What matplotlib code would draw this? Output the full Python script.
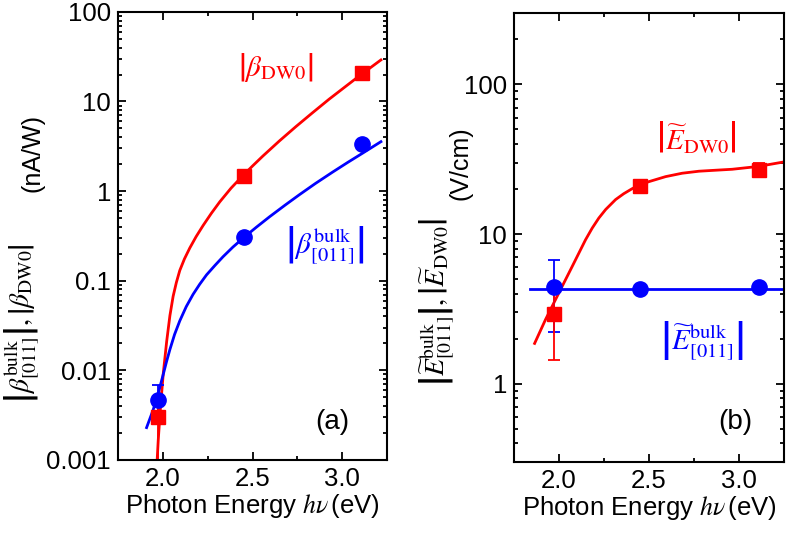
import numpy as np
import matplotlib
matplotlib.use("Agg")
import matplotlib.pyplot as plt
from matplotlib.ticker import FixedLocator, FuncFormatter, LogLocator, NullFormatter

plt.rcParams["font.family"] = ["Liberation Sans", "DejaVu Sans"]
plt.rcParams["mathtext.fontset"] = "stix"

# -----------------------------
# Data
# -----------------------------
energy = [1.97, 2.45, 3.11]

# panel (a): photocurrent coefficients (nA/W)
beta_dw0 = [0.0030, 1.49, 20.7]
beta_dw0_lo = [0.0029, 0.15, 1.5]
beta_dw0_hi = [0.0020, 0.15, 1.5]
beta_bulk = [0.0046, 0.305, 3.36]
beta_bulk_lo = [0.0021, 0.02, 0.2]
beta_bulk_hi = [0.0023, 0.02, 0.2]

# fit curves, panel (a)
fit_a_red_x = [1.966, 1.968, 1.974, 1.987, 2.002, 2.021, 2.039, 2.057, 2.075, 2.094,
               2.120, 2.150, 2.185, 2.224, 2.270, 2.317, 2.380, 2.446, 2.500, 2.557,
               2.650, 2.741, 2.830, 2.926, 3.010, 3.093, 3.215]
fit_a_red_y = [0.0008, 0.001, 0.00166, 0.0040, 0.0092, 0.021, 0.0407, 0.067, 0.0955, 0.130,
               0.175, 0.232, 0.310, 0.413, 0.565, 0.759, 1.08, 1.49, 1.91, 2.46,
               3.64, 5.24, 7.38, 10.6, 14.3, 19.2, 29.1]
fit_a_blue_x = [1.909, 1.946, 1.975, 2.002, 2.020, 2.039, 2.065, 2.094, 2.130, 2.168,
                2.205, 2.243, 2.290, 2.335, 2.390, 2.450, 2.520, 2.594, 2.680, 2.761,
                2.850, 2.946, 3.030, 3.113, 3.215]
fit_a_blue_y = [0.00229, 0.00363, 0.00562, 0.00902, 0.01245, 0.01706, 0.0251, 0.0356,
                0.0513, 0.0703, 0.0912, 0.116, 0.148, 0.185, 0.237, 0.302, 0.394, 0.516,
                0.695, 0.912, 1.216, 1.63, 2.09, 2.65, 3.56]

# panel (b): fields (V/cm)
e_dw0 = [2.93, 20.8, 26.9]
e_dw0_lo = [1.48, 1.5, 3.0]
e_dw0_hi = [1.5, 1.5, 3.0]
e_bulk = [4.43, 4.30, 4.43]
e_bulk_lo = [2.21, 0.2, 0.2]
e_bulk_hi = [2.31, 0.2, 0.2]

fit_b_red_x = [1.865, 1.926, 2.000, 2.074, 2.148, 2.185, 2.222, 2.260, 2.315, 2.360,
               2.407, 2.450, 2.500, 2.593, 2.685, 2.778, 2.870, 2.963, 3.107, 3.241]
fit_b_red_y = [1.86, 2.69, 4.05, 6.08, 9.16, 10.96, 12.8, 14.6, 17.0, 18.6,
               20.1, 21.3, 22.4, 24.2, 25.5, 26.3, 26.7, 27.1, 28.3, 30.2]
fit_b_blue_x = [1.837, 3.245]
fit_b_blue_y = [4.29, 4.29]

RED = "#ff0000"
BLUE = "#0000ff"


def style_axes(ax, ylim, yticks):
    ax.set_xlim(1.75, 3.25)
    ax.set_yscale("log")
    ax.set_ylim(*ylim)
    ax.xaxis.set_major_locator(FixedLocator([2.0, 2.5, 3.0]))
    ax.xaxis.set_minor_locator(FixedLocator([2.25, 2.75]))
    ax.xaxis.set_major_formatter(FuncFormatter(lambda v, p: f"{v:.1f}"))
    ax.yaxis.set_major_locator(FixedLocator(yticks))
    ax.yaxis.set_major_formatter(FuncFormatter(lambda v, p: f"{v:g}"))
    ax.yaxis.set_minor_locator(LogLocator(base=10, subs=np.arange(2, 10), numticks=20))
    ax.yaxis.set_minor_formatter(NullFormatter())
    ax.tick_params(which="both", direction="in", top=True, right=True,
                   width=1.3, labelsize=18.5, pad=5)
    ax.tick_params(which="major", length=6)
    ax.tick_params(which="minor", length=3)
    for s in ax.spines.values():
        s.set_linewidth(1.5)
    ax.set_xlabel(r"Photon Energy $h\nu\,$(eV)", fontsize=18.5, labelpad=1)


fig = plt.figure(figsize=(7.87, 5.41), dpi=100)

# -----------------------------
# Panel (a)
# -----------------------------
ax1 = fig.add_axes([0.150, 0.150, 0.342, 0.828])
ax1.plot(fit_a_red_x, fit_a_red_y, color=RED, lw=2)
ax1.plot(fit_a_blue_x, fit_a_blue_y, color=BLUE, lw=2)
ax1.errorbar(energy, beta_bulk, yerr=[beta_bulk_lo, beta_bulk_hi], fmt="o",
             color=BLUE, ms=11, capsize=4, elinewidth=1.3, capthick=1.3)
ax1.errorbar(energy, beta_dw0, yerr=[beta_dw0_lo, beta_dw0_hi], fmt="s",
             color=RED, ms=10.5, capsize=4, elinewidth=1.3, capthick=1.3)
style_axes(ax1, (0.001, 100), [0.001, 0.01, 0.1, 1, 10, 100])

fig.text(276 / 787, 1 - 68 / 541, r"$\left|\beta_{\rm DW0}\right|$", color=RED,
         fontsize=21, ha="center", va="center")
fig.text(325 / 787, 1 - 245 / 541, r"$\left|\beta^{\rm bulk}_{[011]}\right|$",
         color=BLUE, fontsize=21, ha="center", va="center")
fig.text(332 / 787, 1 - 422 / 541, "(a)", fontsize=20, ha="center", va="center")
fig.text(22 / 787, 1 - 323 / 541,
         r"$\left|\beta^{\rm bulk}_{[011]}\right|,\left|\beta_{\rm DW0}\right|$",
         fontsize=20, rotation=90, ha="center", va="center")
fig.text(33 / 787, 1 - 153 / 541, "(nA/W)", fontsize=18, rotation=90,
         ha="center", va="center")

# -----------------------------
# Panel (b)
# -----------------------------
ax2 = fig.add_axes([0.653, 0.146, 0.343, 0.830])
ax2.plot(fit_b_red_x, fit_b_red_y, color=RED, lw=2)
ax2.plot(fit_b_blue_x, fit_b_blue_y, color=BLUE, lw=2)
ax2.errorbar(energy, e_bulk, yerr=[e_bulk_lo, e_bulk_hi], fmt="o",
             color=BLUE, ms=11, capsize=4, elinewidth=1.3, capthick=1.3)
ax2.errorbar(energy, e_dw0, yerr=[e_dw0_lo, e_dw0_hi], fmt="s",
             color=RED, ms=10.5, capsize=4, elinewidth=1.3, capthick=1.3)
style_axes(ax2, (0.3, 300), [1, 10, 100])

fig.text(696 / 787, 1 - 137 / 541, r"$\left|\widetilde{E}_{\rm DW0}\right|$",
         color=RED, fontsize=21, ha="center", va="center")
fig.text(702 / 787, 1 - 340 / 541, r"$\left|\widetilde{E}^{\rm bulk}_{[011]}\right|$",
         color=BLUE, fontsize=21, ha="center", va="center")
fig.text(735 / 787, 1 - 422 / 541, "(b)", fontsize=20, ha="center", va="center")
fig.text(437 / 787, 1 - 302 / 541,
         r"$\left|\widetilde{E}^{\rm bulk}_{[011]}\right|,\left|\widetilde{E}_{\rm DW0}\right|$",
         fontsize=20, rotation=90, ha="center", va="center")
fig.text(461 / 787, 1 - 163 / 541, "(V/cm)", fontsize=18, rotation=90,
         ha="center", va="center")

fig.savefig("out.png", dpi=100)
